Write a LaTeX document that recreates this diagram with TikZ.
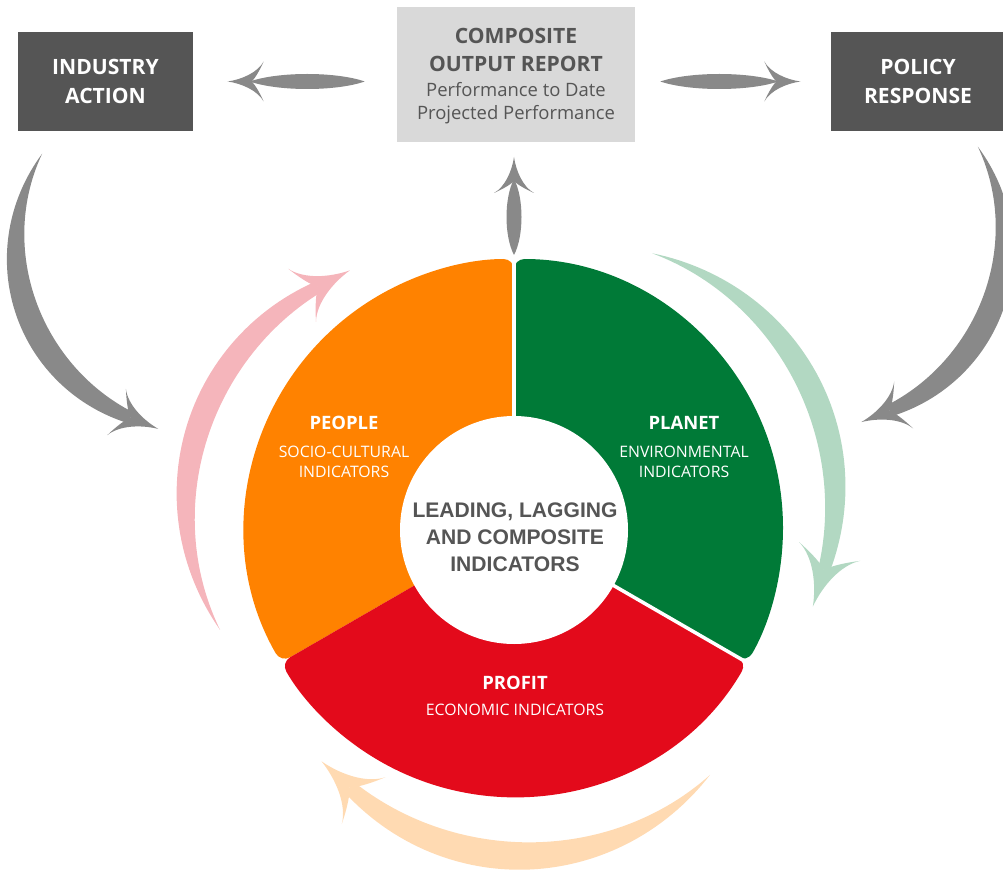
\documentclass[tikz,border=0pt]{standalone}
\usepackage{fontspec}
\setmainfont{Open Sans}
\newfontfamily\headfont{Liberation Sans}
\usetikzlibrary{calc,positioning}

\definecolor{peopleorange}{HTML}{FF8200}
\definecolor{planetgreen}{HTML}{007A37}
\definecolor{profitred}{HTML}{E30A1B}
\definecolor{boxdark}{HTML}{555555}
\definecolor{boxlight}{HTML}{D9D9D9}
\definecolor{textgray}{HTML}{555555}
\definecolor{arrowgray}{HTML}{898989}
\definecolor{arrowpink}{HTML}{F5B5BB}
\definecolor{arrowgreen}{HTML}{B2D8C2}
\definecolor{arrowpeach}{HTML}{FFDAB2}

% arrow head: notch at the origin, tip at (24,0)
\newcommand\swheadpath{(24,0) .. controls (10,2) and (-6,9) .. (-12,20) .. controls (-7,9) and (-3,3) .. (0,0) .. controls (-3,-3) and (-7,-9) .. (-12,-20) .. controls (-6,-9) and (10,-2) .. (24,0) -- cycle}

% bent arrow: centre x, centre y, radius, from angle, to angle, half width, head scale, colour
\newcommand\curvedswoosh[8]{%
  \fill[#8] plot[domain=#4:#5, samples=60, variable=\t]
      ({#1+(#3+#6*sin(150*(\t-(#4))/((#5)-(#4))))*cos(\t)}, {#2+(#3+#6*sin(150*(\t-(#4))/((#5)-(#4))))*sin(\t)})
    -- plot[domain=#5:#4, samples=60, variable=\t]
      ({#1+(#3-#6*sin(150*(\t-(#4))/((#5)-(#4))))*cos(\t)}, {#2+(#3-#6*sin(150*(\t-(#4))/((#5)-(#4))))*sin(\t)})
    -- cycle;
  \fill[#8, shift={({#1+#3*cos(#5)},{#2+#3*sin(#5)})}, rotate={-(#5)-90*sign((#5)-(#4))}, scale=#7] \swheadpath;
}

\tikzset{pics/swoosh/.style={code={
  \fill (0,0) .. controls ({0.25*(#1-22)},10) and ({0.75*(#1-22)},10) .. ({#1-22},0)
        .. controls ({0.75*(#1-22)},-10) and ({0.25*(#1-22)},-10) .. (0,0) -- cycle;
  \fill[shift={({#1-24},0)}] \swheadpath;
}}}

\begin{document}
\begin{tikzpicture}[x=0.02cm, y=-0.02cm,
    darkbox/.style={rectangle, fill=boxdark, text=white, minimum width=3.5cm, minimum height=1.98cm, align=center, font=\bfseries\fontsize{12}{16}\selectfont},
    lightbox/.style={rectangle, fill=boxlight, minimum width=4.76cm, minimum height=2.7cm},
    reporttitle/.style={text=textgray, align=center, inner sep=0pt, font=\bfseries\fontsize{12}{16}\selectfont},
    reportsub/.style={text=textgray, align=center, inner sep=0pt, font=\fontsize{10.5}{13}\selectfont},
    ringtitle/.style={text=white, inner sep=0pt, font=\bfseries\fontsize{10.5}{13}\selectfont},
    ringsub/.style={text=white, align=center, inner sep=0pt, font=\fontsize{9}{11.4}\selectfont},
    hubtext/.style={text=textgray, align=center, inner sep=0pt, font=\headfont\bfseries\fontsize{12}{15.4}\selectfont},
    segment/.style={rounded corners=6pt},
    gap/.style={white, line width=2pt}
  ]
  \useasboundingbox (0,0) rectangle (1003,871);

  % Boxes (top row)
  \node[darkbox] (industry) at (105.5,81.5) {INDUSTRY\\ACTION};
  \node[darkbox] (policy) at (918,81.5) {POLICY\\RESPONSE};
  \node[lightbox] (report) at (516,74.5) {};
  \node[reporttitle] (reporttitle) at (516,50) {COMPOSITE\\OUTPUT REPORT};
  \node[reportsub] (reportsub) at (516,103) {Performance to Date\\Projected Performance};

  % Ring
  \coordinate (hub) at (514,528);
  \begin{scope}[shift={(hub)}]
    \fill[peopleorange, segment] (150:100) -- (150:269) arc[start angle=150, end angle=270, radius=269] -- (270:100) arc[start angle=270, end angle=150, radius=100] -- cycle;
    \fill[planetgreen, segment] (-90:100) -- (-90:269) arc[start angle=-90, end angle=30, radius=269] -- (30:100) arc[start angle=30, end angle=-90, radius=100] -- cycle;
    \fill[profitred, segment] (30:100) -- (30:269) arc[start angle=30, end angle=150, radius=269] -- (150:100) arc[start angle=150, end angle=30, radius=100] -- cycle;
    \draw[gap] (-90:100) -- (-90:275);
    \draw[gap] (30:100) -- (30:275);
    \fill[white] (0,2) circle[radius=114];
  \end{scope}

  % Labels
  \node[ringtitle] (people) at (344,423) {PEOPLE};
  \node[ringsub] (peoplesub) at (344,462) {SOCIO-CULTURAL\\INDICATORS};
  \node[ringtitle] (planet) at (684,423) {PLANET};
  \node[ringsub] (planetsub) at (684,462) {ENVIRONMENTAL\\INDICATORS};
  \node[ringtitle] (profit) at (515,683) {PROFIT};
  \node[ringsub] (profitsub) at (515,710) {ECONOMIC INDICATORS};
  \node[hubtext] (hubtext) at (515,537) {LEADING, LAGGING\\AND COMPOSITE\\INDICATORS};

  % Straight arrows
  \pic[arrowgray, rotate=180] at ($(report.west |- industry.east)+(-32,0)$) {swoosh=137};
  \pic[arrowgray] at ($(report.east |- policy.west)+(25,0)$) {swoosh=140};
  \pic[arrowgray, rotate=90] at ($(hub)+(0,-273)$) {swoosh=98};

  % Bent arrows
  \curvedswoosh{199}{248}{183}{211}{112}{12}{1.25}{arrowgray}
  \curvedswoosh{821}{241}{183}{-31}{68}{12}{1.27}{arrowgray}
  \curvedswoosh{432}{505}{246}{149.5}{242.4}{12}{1.5}{arrowpink}
  \curvedswoosh{582.6}{496}{252.5}{-74}{17}{12}{1.6}{arrowgreen}
  \curvedswoosh{523.5}{601}{255}{43}{133}{14}{1.6}{arrowpeach}
\end{tikzpicture}
\end{document}
